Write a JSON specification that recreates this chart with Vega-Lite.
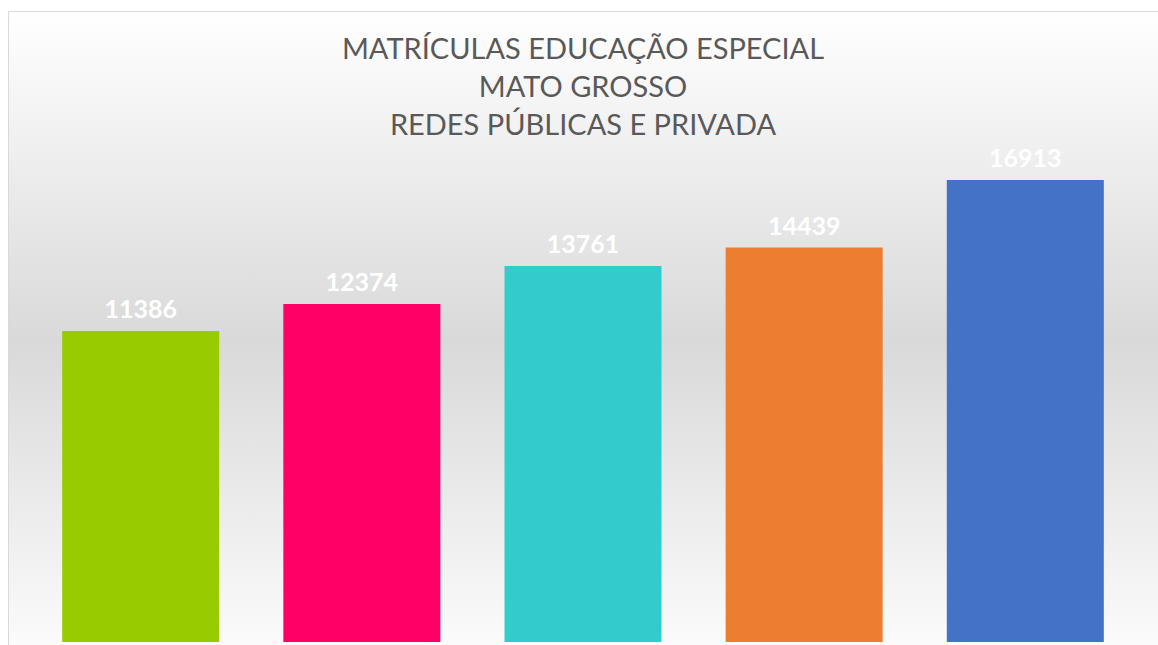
{
  "$schema": "https://vega.github.io/schema/vega-lite/v6.json",
  "width": 1150,
  "height": 634,
  "autosize": {"type": "none"},
  "padding": {"left": 8, "top": 11, "right": 0, "bottom": 0},
  "background": "#ffffff",
  "title": {
    "text": ["MATRÍCULAS EDUCAÇÃO ESPECIAL", "MATO GROSSO", "REDES PÚBLICAS E PRIVADA"],
    "font": "Lato",
    "fontSize": 29,
    "fontWeight": "normal",
    "color": "#595959",
    "lineHeight": 38,
    "anchor": "middle",
    "frame": "group",
    "offset": -130
  },
  "view": {
    "stroke": "#d9d9d9",
    "strokeWidth": 1,
    "fill": {
      "gradient": "linear",
      "x1": 0, "y1": 0, "x2": 0, "y2": 1,
      "stops": [
        {"offset": 0, "color": "#ffffff"},
        {"offset": 0.52, "color": "#d9d9d9"},
        {"offset": 1, "color": "#fbfbfb"}
      ]
    }
  },
  "data": {
    "values": [
      {"ano": "2015", "matriculas": 11386},
      {"ano": "2016", "matriculas": 12374},
      {"ano": "2017", "matriculas": 13761},
      {"ano": "2018", "matriculas": 14439},
      {"ano": "2019", "matriculas": 16913}
    ]
  },
  "encoding": {
    "x": {
      "field": "ano",
      "type": "nominal",
      "sort": null,
      "axis": null,
      "scale": {"paddingInner": 0.29, "paddingOuter": 0.245}
    },
    "y": {
      "field": "matriculas",
      "type": "quantitative",
      "axis": null,
      "scale": {"domain": [-110, 23100], "nice": false, "zero": true}
    }
  },
  "layer": [
    {
      "mark": {"type": "bar"},
      "encoding": {
        "color": {
          "field": "ano",
          "type": "nominal",
          "legend": null,
          "scale": {"range": ["#99cc00", "#ff0066", "#33cccc", "#ed7d31", "#4472c4"]}
        }
      }
    },
    {
      "mark": {
        "type": "text",
        "font": "Lato",
        "fontSize": 25,
        "fontWeight": "bold",
        "color": "#ffffff",
        "baseline": "alphabetic",
        "dy": -13
      },
      "encoding": {
        "text": {"field": "matriculas", "type": "quantitative", "format": "d"}
      }
    }
  ]
}
